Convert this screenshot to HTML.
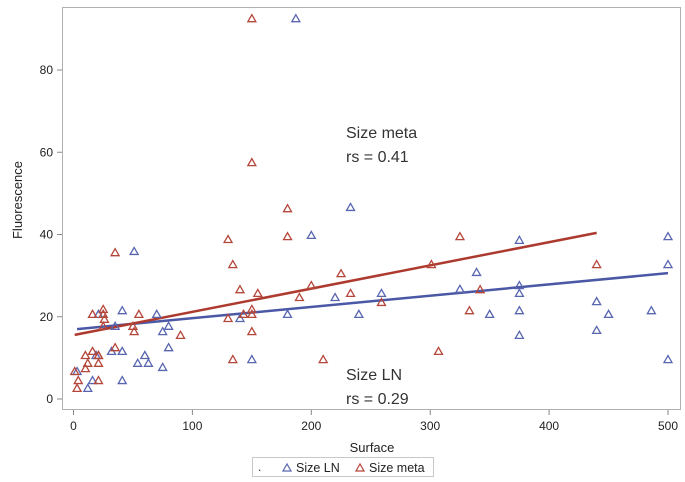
<!DOCTYPE html>
<html><head><meta charset="utf-8"><style>
html,body{margin:0;padding:0;background:#fff;}
svg{display:block;font-family:"Liberation Sans",Arial,sans-serif;}
</style></head><body>
<svg id="chart" width="685" height="482" viewBox="0 0 685 482" xmlns="http://www.w3.org/2000/svg">
<rect x="62.5" y="7.5" width="618" height="402" fill="none" stroke="#b0b0b0" stroke-width="1"/>
<g id="axes"></g>
<g id="lines"></g>
<g id="points"></g>
<text x="346" y="138" font-size="16" fill="#333">Size meta</text>
<text x="346" y="162" font-size="16" fill="#333">rs = 0.41</text>
<text x="346" y="380" font-size="16" fill="#333">Size LN</text>
<text x="346" y="404" font-size="16" fill="#333">rs = 0.29</text>
<text x="372" y="452" font-size="13" text-anchor="middle" fill="#222">Surface</text>
<text transform="translate(22,200) rotate(-90)" font-size="13" text-anchor="middle" fill="#222">Fluorescence</text>
<g>
<rect x="252.5" y="457.5" width="181" height="19" fill="#fff" stroke="#c8c8c8"/>
<text x="258" y="471" font-size="12" fill="#222">.</text>
<path d="M283,471 L287,464 L291,471 Z" fill="none" stroke="#5866b0" stroke-width="1.2"/>
<text x="296" y="472" font-size="12.5" fill="#222">Size LN</text>
<path d="M356,471 L360,464 L364,471 Z" fill="none" stroke="#b4463a" stroke-width="1.2"/>
<text x="369" y="472" font-size="12.5" fill="#222">Size meta</text>
</g>
</svg>
<script>
const xTicks = [0,100,200,300,400,500];
const yTicks = [0,20,40,60,80];
const lnX = [187,233,200,51,375,500,500,339,325,375,375,440,375,350,450,486,440,375,500,220,259,180,240,140,150,41,21,70,35,75,80,32,41,60,80,54,63,75,3,19,16,41,12];
const lnY = [92.6,46.7,39.9,36,38.7,39.6,32.8,30.9,26.8,27.7,25.8,23.8,21.6,20.7,20.7,21.6,16.8,15.6,9.7,24.8,25.8,20.7,20.7,19.7,9.7,21.6,20.7,20.7,17.8,16.5,17.8,11.7,11.7,10.7,12.6,8.8,8.8,7.8,6.8,10.7,4.6,4.6,2.7];
const metaX = [150,150,180,180,130,134,225,301,325,440,342,333,307,140,155,200,190,233,259,150,150,143,130,150,134,210,35,16,25,25,26,25,55,50,51,90,35,16,10,21,21,10,12,21,1,4,21,3];
const metaY = [92.6,57.6,46.4,39.6,38.9,32.8,30.6,32.8,39.6,32.8,26.7,21.6,11.7,26.7,25.8,27.7,24.8,25.8,23.6,21.9,20.7,20.7,19.7,16.5,9.7,9.7,35.7,20.7,21.9,20.7,19.5,17.8,20.7,17.8,16.5,15.6,12.6,11.7,10.7,10.7,10.7,7.5,8.8,8.8,6.8,4.6,4.6,2.7];
const lnFitX = [3,500];
const lnFitY = [17.0,30.6];
const metaFitX = [1,440];
const metaFitY = [15.6,40.4];

const sx = v => 73.5 + v * 1.189;
const sy = v => 399 - v * 4.1125;
const NS = "http://www.w3.org/2000/svg";
const axes = document.getElementById('axes');
const linesG = document.getElementById('lines');
const ptsG = document.getElementById('points');

xTicks.forEach(t => {
  const ln = document.createElementNS(NS,'line');
  
  
  ln.setAttribute('x1',sx(t)); ln.setAttribute('x2',sx(t));
  ln.setAttribute('y1',410); ln.setAttribute('y2',415);
  ln.setAttribute('stroke','#888');
  axes.appendChild(ln);
  const tx = document.createElementNS(NS,'text');
  
  
  tx.setAttribute('x',sx(t)); tx.setAttribute('y',430);
  tx.setAttribute('font-size','12'); tx.setAttribute('text-anchor','middle'); tx.setAttribute('fill','#222');
  tx.textContent = t;
  axes.appendChild(tx);
});
yTicks.forEach(t => {
  const ln = document.createElementNS(NS,'line');
  
  
  ln.setAttribute('x1',57); ln.setAttribute('x2',62);
  ln.setAttribute('y1',sy(t)); ln.setAttribute('y2',sy(t));
  ln.setAttribute('stroke','#888');
  axes.appendChild(ln);
  const tx = document.createElementNS(NS,'text');
  
  
  tx.setAttribute('x',53); tx.setAttribute('y',sy(t)+4);
  tx.setAttribute('font-size','12'); tx.setAttribute('text-anchor','end'); tx.setAttribute('fill','#222');
  tx.textContent = t;
  axes.appendChild(tx);
});

function fit(xs, ys, color, name){
  const l = document.createElementNS(NS,'line');
  
  
  l.setAttribute('x1',sx(xs[0])); l.setAttribute('y1',sy(ys[0]));
  l.setAttribute('x2',sx(xs[1])); l.setAttribute('y2',sy(ys[1]));
  l.setAttribute('stroke',color); l.setAttribute('stroke-width','2.5');
  linesG.appendChild(l);
}
fit(lnFitX, lnFitY, '#4a58a6', 'fit-line-ln');
fit(metaFitX, metaFitY, '#ad3a2e', 'fit-line-meta');

function pts(xs, ys, color, name){
  xs.forEach((x,i) => {
    const cx = sx(x), cy = sy(ys[i]);
    const p = document.createElementNS(NS,'path');
    
    
    p.setAttribute('d',`M${cx-4},${cy+3.5} L${cx},${cy-3.5} L${cx+4},${cy+3.5} Z`);
    p.setAttribute('fill','none'); p.setAttribute('stroke',color); p.setAttribute('stroke-width','1.3');
    ptsG.appendChild(p);
  });
}
pts(lnX, lnY, '#5866b0', 'point-ln');
pts(metaX, metaY, '#b4463a', 'point-meta');
</script>
</body></html>
